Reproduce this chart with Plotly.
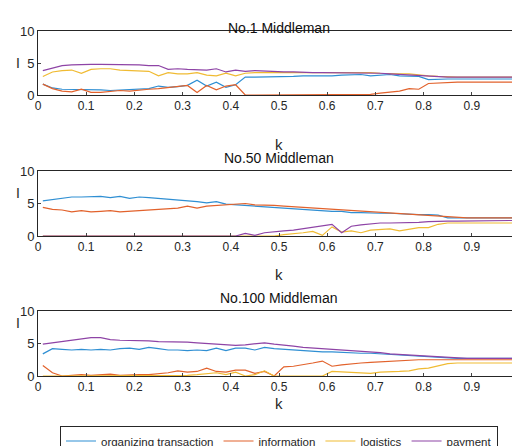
import plotly.graph_objects as go
from plotly.subplots import make_subplots

k = [round(0.01 + 0.02 * i, 2) for i in range(50)] + [1.0]

series_names = ["organizing transaction", "information", "logistics", "payment"]
colors = ["#2f8fd3", "#e2622c", "#f0bb33", "#8e44a6"]
titles = ["No.1 Middleman", "No.50 Middleman", "No.100 Middleman"]

m1_org = [1.7, 1.1, 0.9, 0.9, 0.9, 0.8, 0.8, 0.7, 0.8, 0.9,
          0.9, 1.0, 1.4, 1.2, 1.3, 1.5, 2.3, 1.4, 2.0, 1.2,
          1.6, 2.8, 2.8, 2.8, 2.9, 2.9, 2.9, 3.0, 3.0, 2.9,
          3.0, 3.1, 3.1, 3.2, 3.0, 3.1, 3.2, 3.0, 2.9, 2.9,
          2.4, 2.5, 2.5, 2.5, 2.5, 2.5, 2.5, 2.5, 2.5, 2.5, 2.5]
m1_info = [1.7, 1.0, 0.6, 0.5, 0.9, 0.4, 0.4, 0.6, 0.7, 0.6,
           0.8, 0.9, 1.0, 1.2, 1.3, 1.5, 0.4, 1.5, 0.8, 1.4,
           1.6, 0.0, 0.0, 0.0, 0.0, 0.0, 0.0, 0.0, 0.0, 0.0,
           0.0, 0.0, 0.0, 0.0, 0.1, 0.3, 0.4, 0.6, 1.0, 0.9,
           1.8, 1.9, 2.0, 2.0, 2.0, 2.0, 2.0, 2.0, 2.0, 2.0, 2.0]
m1_log = [2.9, 3.6, 3.8, 3.9, 3.4, 4.0, 4.1, 4.1, 3.9, 3.8,
          3.8, 3.7, 3.0, 3.5, 3.3, 3.3, 3.5, 3.1, 3.0, 3.4,
          3.0, 3.4, 3.5, 3.5, 3.5, 3.5, 3.6, 3.5, 3.5, 3.6,
          3.6, 3.5, 3.6, 3.5, 3.5, 3.4, 3.3, 3.3, 3.3, 3.1,
          3.0, 2.9, 2.8, 2.8, 2.8, 2.8, 2.8, 2.8, 2.8, 2.8, 2.8]
m1_pay = [3.8, 4.2, 4.6, 4.7, 4.8, 4.8, 4.8, 4.8, 4.7, 4.8,
          4.7, 4.6, 4.6, 4.0, 4.1, 4.0, 3.9, 3.9, 4.1, 3.6,
          3.9, 3.7, 3.8, 3.7, 3.6, 3.6, 3.6, 3.5, 3.5, 3.5,
          3.5, 3.5, 3.5, 3.4, 3.4, 3.4, 3.3, 3.2, 3.1, 3.0,
          3.0, 2.8, 2.8, 2.8, 2.8, 2.8, 2.8, 2.8, 2.8, 2.8, 2.8]

m50_org = [5.4, 5.6, 5.8, 6.0, 6.0, 6.1, 6.1, 5.9, 6.1, 5.8,
           6.0, 5.9, 5.8, 5.7, 5.6, 5.4, 5.3, 5.1, 5.3, 4.9,
           4.8, 4.7, 4.6, 4.5, 4.4, 4.3, 4.2, 4.0, 4.0, 3.9,
           3.8, 3.8, 3.6, 3.6, 3.5, 3.5, 3.5, 3.4, 3.4, 3.3,
           3.3, 3.2, 2.8, 2.8, 2.8, 2.8, 2.8, 2.8, 2.8, 2.8, 2.8]
m50_info = [4.4, 4.1, 4.0, 3.7, 3.9, 3.7, 3.8, 3.9, 3.7, 3.8,
            3.8, 3.9, 4.0, 4.1, 4.3, 4.6, 4.3, 4.6, 4.7, 4.8,
            4.9, 5.0, 4.8, 4.8, 4.7, 4.6, 4.5, 4.5, 4.3, 4.2,
            4.1, 4.0, 4.0, 3.9, 3.8, 3.7, 3.5, 3.4, 3.3, 3.2,
            3.1, 3.0, 2.9, 2.8, 2.8, 2.8, 2.8, 2.8, 2.8, 2.8, 2.8]
m50_log = [0.0] * 25 + [0.2, 0.3, 0.5, 0.7, 0.1, 1.4, 0.6, 0.8, 0.5, 0.9,
                        1.0, 1.1, 0.8, 1.0, 1.3, 1.3, 1.8, 2.0] + [2.0] * 8
m50_pay = [0.0] * 21 + [0.4, 0.1, 0.5, 0.7, 0.8, 0.9, 1.1, 1.3, 1.5, 1.8,
                        0.5, 1.5, 1.7, 1.9, 2.0, 2.0, 2.0, 2.1, 2.1, 2.2,
                        2.3, 2.3, 2.3, 2.3] + [2.4] * 6

m100_org = [3.4, 4.2, 4.1, 4.0, 4.1, 4.0, 4.1, 4.0, 4.2, 4.3,
            4.1, 4.4, 4.2, 4.0, 4.0, 3.9, 4.0, 3.9, 4.3, 3.9,
            4.3, 4.3, 4.0, 4.4, 4.2, 4.1, 3.9, 3.9, 3.7, 3.7,
            3.7, 3.6, 3.5, 3.5, 3.5, 3.4, 3.3, 3.3, 3.2, 3.1,
            3.0, 2.8, 2.7, 2.7, 2.7, 2.7, 2.7, 2.7, 2.7, 2.7, 2.7]
m100_info = [1.6, 0.5, 0.0, 0.1, 0.2, 0.1, 0.2, 0.3, 0.1, 0.2,
             0.2, 0.2, 0.3, 0.5, 0.8, 0.6, 0.7, 1.2, 0.7, 0.6,
             0.9, 0.9, 0.4, 0.7, 0.0, 1.4, 1.5, 1.7, 2.0, 2.3,
             1.5, 1.7, 1.9, 2.0, 2.1, 2.2, 2.3, 2.4, 2.5, 2.5,
             2.5, 2.5, 2.5, 2.5, 2.5, 2.5, 2.5, 2.5, 2.5, 2.5, 2.5]
m100_log = [0.0] * 15 + [0.1, 0.2, 0.3, 0.5, 0.2, 0.6, 0.0, 0.2, 0.8, 0.0,
                         0.0, 0.0, 0.0, 0.0, 0.0,
                         0.7, 0.6, 0.6, 0.5, 0.4, 0.6, 0.6, 0.7, 0.8, 1.1,
                         1.2, 1.6, 1.9] + [2.0] * 8
m100_pay = [4.9, 5.1, 5.3, 5.6, 5.7, 5.9, 5.9, 5.6, 5.5, 5.5,
            5.5, 5.4, 5.3, 5.3, 5.2, 5.2, 5.1, 5.0, 5.0, 4.8,
            4.7, 4.8, 4.9, 5.1, 4.9, 4.8, 4.6, 4.4, 4.3, 4.2,
            4.1, 4.0, 3.9, 3.9, 3.8, 3.6, 3.4, 3.3, 3.2, 3.1,
            3.0, 2.9, 2.8, 2.7, 2.7, 2.7, 2.7, 2.7, 2.7, 2.7, 2.7]

panels = [
    [m1_org, m1_info, m1_log, m1_pay],
    [m50_org, m50_info, m50_log, m50_pay],
    [m100_org, m100_info, m100_log, m100_pay],
]

H = 446
# (top, bottom) pixel rows of each plot box
boxes = [(23, 87), (163, 228), (303, 368)]
title_rows = [10, 150, 290]
klabel_rows = [126, 266, 406]

fig = make_subplots(rows=3, cols=1)
font = "Liberation Sans, Arial, sans-serif"

for r, data in enumerate(panels):
    for j, ys in enumerate(data):
        fig.add_trace(go.Scatter(
            x=k, y=ys, mode="lines", name=series_names[j],
            line=dict(color=colors[j], width=1.2),
            showlegend=(r == 0),
        ), row=r + 1, col=1)
    top, bot = boxes[r]
    ax = "" if r == 0 else str(r + 1)
    fig.layout["xaxis" + ax].update(
        domain=[0, 1], range=[0, 1], tickvals=[i / 10 for i in range(11)],
        ticktext=["0"] + [f"0.{i}" for i in range(1, 10)] + ["1"],
        ticks="inside", ticklen=3, showline=True, mirror=True, automargin=False,
        linecolor="#262626", linewidth=1, showgrid=False, zeroline=False,
        tickfont=dict(size=12, color="#262626"),
    )
    fig.layout["yaxis" + ax].update(
        domain=[1 - bot / H, 1 - top / H], range=[0, 10], tickvals=[0, 5, 10],
        ticks="inside", ticklen=3, showline=True, mirror=True, automargin=False,
        linecolor="#262626", linewidth=1, showgrid=False, zeroline=False,
        tickfont=dict(size=13, color="#262626"),
    )
    fig.add_annotation(text=titles[r], xref="paper", yref="paper", x=0.5,
                       y=1 - title_rows[r] / H, showarrow=False,
                       font=dict(size=14, color="#111"))
    fig.add_annotation(text="k", xref="paper", yref="paper", x=0.5,
                       y=1 - klabel_rows[r] / H, showarrow=False,
                       font=dict(size=15, color="#262626"))
    fig.add_annotation(text="I", xref="paper", yref="paper", x=-0.05,
                       y=1 - (top + 22) / H, showarrow=False,
                       font=dict(size=14, color="#262626"))

fig.update_layout(
    width=520, height=446,
    margin=dict(l=30, r=8, t=0, b=0, autoexpand=False),
    plot_bgcolor="white", paper_bgcolor="white",
    font=dict(family=font, color="#262626"),
    legend=dict(orientation="h", x=0.5, xanchor="center", y=1 - 433 / H,
                yanchor="middle", bordercolor="#262626", borderwidth=1,
                font=dict(size=11.5), itemwidth=30, tracegroupgap=0),
)

fig.write_html("out.html")
